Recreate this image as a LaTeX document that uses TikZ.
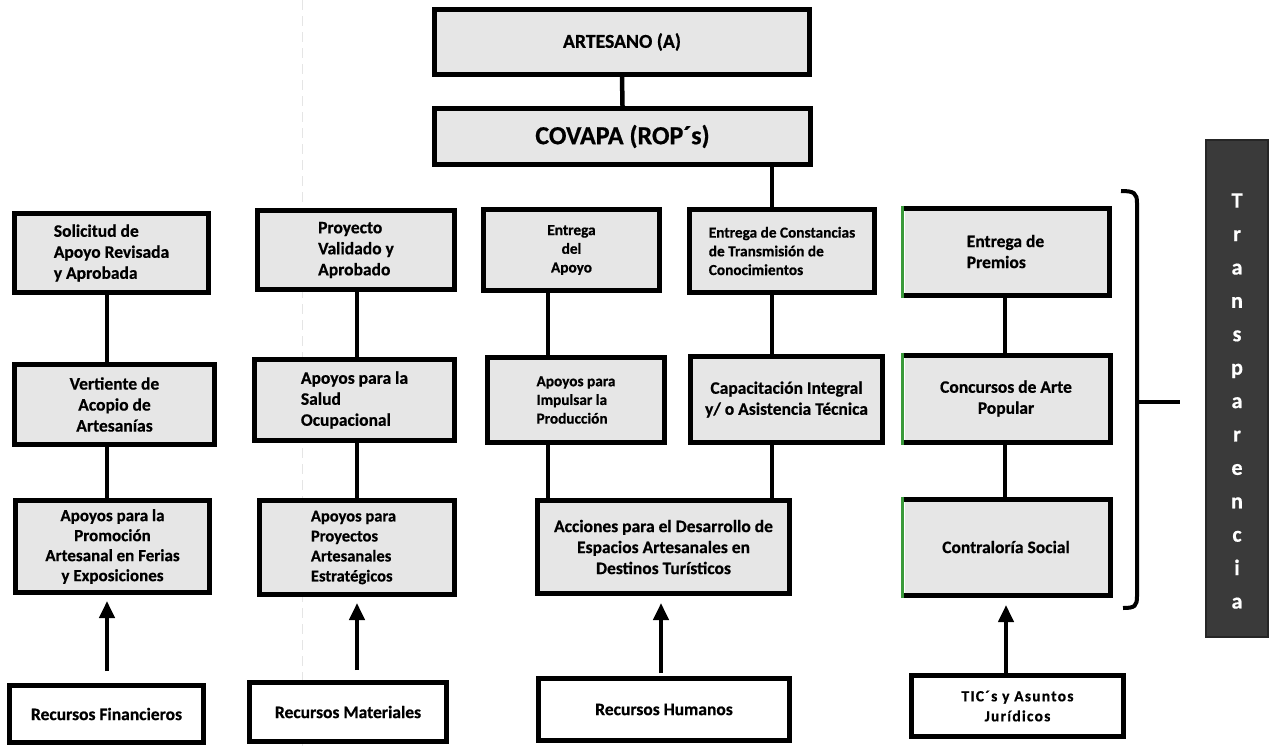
\documentclass[tikz,border=0pt]{standalone}
\usepackage{fontspec}
\setmainfont{Carlito}[BoldFeatures={FakeBold=0.6}]
\usetikzlibrary{arrows.meta}
\definecolor{boxfill}{HTML}{E6E6E6}
\definecolor{tdark}{HTML}{3A3A3A}
\definecolor{edgegreen}{HTML}{3A9A3A}
\newcommand\fs[2]{\bfseries\fontsize{#1pt}{#2pt}\selectfont}
\newcommand\greenedge[1]{%
  \draw[line width=5pt] (#1.north west) -- (#1.north east) -- (#1.south east) -- (#1.south west);
  \draw[edgegreen, line width=3pt] ([yshift=2.5pt]#1.north west) -- ([yshift=-2.5pt]#1.south west);}
\begin{document}
\begin{tikzpicture}[x=1pt,y=-1pt,
  box/.style={draw=black, line width=5pt, fill=boxfill, inner sep=0pt, align=center, font=\fs{17.5}{21}},
  wbox/.style={box, fill=white},
  gbox/.style={box, draw=none},
  sz/.style 2 args={minimum width=#1pt, minimum height=#2pt},
  small/.style={font=\fs{15.3}{18.7}},
  mid/.style={font=\fs{17.5}{21}},
  conn/.style={line width=4.5pt},
  arr/.style={line width=4pt, -{Triangle[length=17pt,width=15pt]}},
  tr/.style={fill=tdark, draw=black!85, line width=2pt, inner sep=0pt}]
\useasboundingbox (0,0) rectangle (1273,747);
\fill[white] (0,0) rectangle (1273,747);

% faint fold line of the scan
\draw[black!10, dashed, line width=0.8pt, dash pattern=on 10pt off 6pt] (302,0) -- (302,747);

% top
\node[box, sz={375}{65}, font=\fs{19.7}{22}] (art) at (622,42) {ARTESANO (A)};
\node[box, sz={376}{56}, font=\fs{26}{30}] (cov) at (622.5,136.5) {COVAPA (ROP´s)};

% column 1
\node[box, sz={194}{79}, align=left] (sol) at (111.5,253) {Solicitud de\\Apoyo Revisada\\y Aprobada};
\node[box, sz={200}{80}] (ver) at (114.5,404.5) {Vertiente de\\Acopio de\\Artesanías};
\node[box, sz={194}{92}, font=\fs{17}{20}] (pro) at (112.5,546.5) {Apoyos para la\\Promoción\\Artesanal en Ferias\\y Exposiciones};

% column 2
\node[box, sz={197}{79}, align=left] (pval) at (356,250) {Proyecto\\Validado y\\Aprobado};
\node[box, sz={200}{81}, align=left] (sal) at (354.5,400) {Apoyos para la\\Salud\\Ocupacional};
\node[box, sz={195}{94}, align=left, font=\fs{16.5}{20}] (pae) at (357,547.5) {\hspace*{-7pt}Apoyos para\\\hspace*{-7pt}Proyectos\\\hspace*{-7pt}Artesanales\\\hspace*{-7pt}Estratégicos};

% column 3
\node[box, sz={176}{81}, small] (ent) at (571.5,250) {Entrega\\del\\Apoyo};
\node[box, sz={177}{85}, small, align=left] (imp) at (576,400) {Apoyos para\\Impulsar la\\Producción};

% column 4
\node[box, sz={185}{83}, small, align=left] (con) at (782,251) {Entrega de Constancias\\de Transmisión de\\Conocimientos};
\node[box, sz={192}{86}, mid] (cap) at (786.5,399.5) {Capacitación Integral\\y/ o Asistencia Técnica};

\node[box, sz={252}{93}, mid] (acc) at (663.5,547) {Acciones para el Desarrollo de\\Espacios Artesanales en\\Destinos Turísticos};

% column 5
\node[gbox, sz={202}{82}, align=left] (pre) at (1005.5,251.5) {Entrega de\\Premios};
\node[gbox, sz={203}{82}] (conc) at (1006,398.5) {Concursos de Arte\\Popular};
\node[gbox, sz={203}{91}] (cs) at (1006,547) {Contraloría Social};
\greenedge{pre}
\greenedge{conc}
\greenedge{cs}

% bottom resources
\node[wbox, sz={194}{57}] (rf) at (106.5,714) {Recursos Financieros};
\node[wbox, sz={197}{59}] (rm) at (348,712) {Recursos Materiales};
\node[wbox, sz={251}{62}] (rh) at (664,709.5) {Recursos Humanos};
\node[wbox, sz={212}{61}, font={\fs{15.5}{20}\addfontfeature{LetterSpace=8}}] (tic) at (1017.5,706) {TIC´s y Asuntos\\Jurídicos};

% Transparencia
\node[tr, sz={62}{497}] (trb) at (1237,388.5) {};
\node[text=white, font=\fs{22}{33.4}, align=center, inner sep=0pt] (trt) at (1237,401)
  {T\\r\\a\\n\\s\\p\\a\\r\\e\\n\\c\\i\\a};

% connector x positions
\coordinate (x1) at (107,0);
\coordinate (x2) at (357,0);
\coordinate (x3) at (548,0);
\coordinate (x4) at (772,0);
\coordinate (x5) at (1005,0);

\draw[conn] (art.south) -- (cov.north);
\draw[conn] (cov.south -| x4) -- (con.north -| x4);
\draw[conn] (sol.south -| x1) -- (ver.north -| x1);
\draw[conn] (ver.south -| x1) -- (pro.north -| x1);
\draw[conn] (pval.south -| x2) -- (sal.north -| x2);
\draw[conn] (sal.south -| x2) -- (pae.north -| x2);
\draw[conn] (ent.south -| x3) -- (imp.north -| x3);
\draw[conn] (imp.south -| x3) -- (acc.north -| x3);
\draw[conn] (con.south -| x4) -- (cap.north -| x4);
\draw[conn] (cap.south -| x4) -- (acc.north -| x4);
\draw[conn] (pre.south -| x5) -- (conc.north -| x5);
\draw[conn] (conc.south -| x5) -- (cs.north -| x5);

% arrows
\draw[arr, shorten <=12pt, shorten >=6pt] (rf.north -| x1) -- (pro.south -| x1);
\draw[arr, shorten <=10pt, shorten >=6pt] (rm.north -| x2) -- (pae.south -| x2);
\coordinate (x6) at (661,0);
\coordinate (x7) at (1006,0);
\draw[arr, shorten <=3pt, shorten >=7pt] (rh.north -| x6) -- (acc.south -| x6);
\draw[arr, shorten >=10pt] (tic.north -| x7) -- (cs.south -| x7);

% bracket
\coordinate (bt) at (1121,191);
\coordinate (bb) at (1123,608);
\coordinate (bm) at (1137,402);
\coordinate (be) at (1180,402);
\draw[line width=4pt] (bt) .. controls (1134,191) and (1137,193) .. (1137,203) -- (1137,596) .. controls (1137,606) and (1135,608) .. (bb);
\draw[line width=4pt] (bm) -- (be);
\end{tikzpicture}
\end{document}
